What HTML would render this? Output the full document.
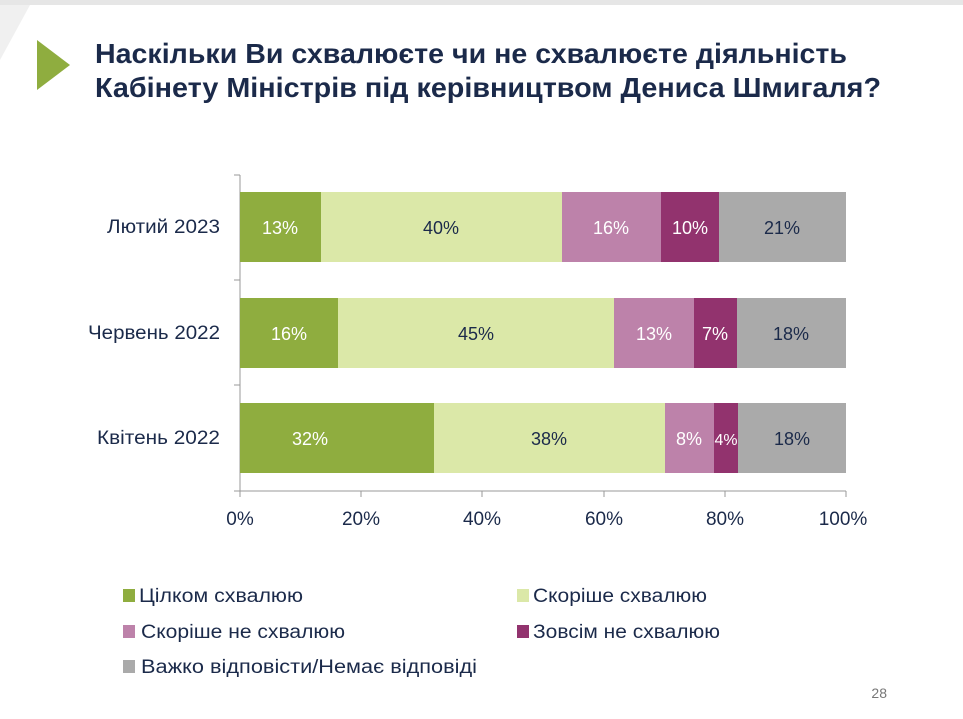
<!DOCTYPE html>
<html><head><meta charset="utf-8"><style>
html,body{margin:0;padding:0;background:#fff;}
svg{display:block;font-family:"Liberation Sans","DejaVu Sans",sans-serif;}
</style></head><body>
<svg width="963" height="719" viewBox="0 0 963 719" xmlns="http://www.w3.org/2000/svg">
<rect width="963" height="719" fill="#fff"/>
<rect x="0" y="0" width="963" height="5" fill="#e6e6e6"/>
<polygon points="0,5 30,5 0,60" fill="#f0f0f0"/>
<polygon points="37,40 70,65 37,90" fill="#8fad3f"/>
<g fill="#1b2a4a" font-weight="bold" font-size="28">
<text x="95" y="63" textLength="752" lengthAdjust="spacingAndGlyphs">Наскільки Ви схвалюєте чи не схвалюєте діяльність</text>
<text x="95" y="97" textLength="786" lengthAdjust="spacingAndGlyphs">Кабінету Міністрів під керівництвом Дениса Шмигаля?</text>
</g>
<g stroke="#999" stroke-width="1">
<line x1="240" y1="175" x2="240" y2="491"/>
<line x1="234" y1="175" x2="240" y2="175"/>
<line x1="234" y1="280" x2="240" y2="280"/>
<line x1="234" y1="385" x2="240" y2="385"/>
<line x1="234" y1="491" x2="846" y2="491"/>
<line x1="240" y1="491" x2="240" y2="497"/>
<line x1="361" y1="491" x2="361" y2="497"/>
<line x1="482" y1="491" x2="482" y2="497"/>
<line x1="604" y1="491" x2="604" y2="497"/>
<line x1="725" y1="491" x2="725" y2="497"/>
<line x1="846" y1="491" x2="846" y2="497"/>
</g>
<rect x="240" y="192" width="81" height="70" fill="#8fad3f"/>
<rect x="321" y="192" width="241" height="70" fill="#dbe8a8"/>
<rect x="562" y="192" width="99" height="70" fill="#bd82aa"/>
<rect x="661" y="192" width="58" height="70" fill="#92336e"/>
<rect x="719" y="192" width="127" height="70" fill="#aaaaaa"/>
<rect x="240" y="298" width="98" height="70" fill="#8fad3f"/>
<rect x="338" y="298" width="276" height="70" fill="#dbe8a8"/>
<rect x="614" y="298" width="80" height="70" fill="#bd82aa"/>
<rect x="694" y="298" width="43" height="70" fill="#92336e"/>
<rect x="737" y="298" width="109" height="70" fill="#aaaaaa"/>
<rect x="240" y="403" width="194" height="70" fill="#8fad3f"/>
<rect x="434" y="403" width="231" height="70" fill="#dbe8a8"/>
<rect x="665" y="403" width="49" height="70" fill="#bd82aa"/>
<rect x="714" y="403" width="24" height="70" fill="#92336e"/>
<rect x="738" y="403" width="108" height="70" fill="#aaaaaa"/>
<g font-size="18" text-anchor="middle">
<text x="280" y="234" fill="#fff">13%</text>
<text x="441" y="234" fill="#1b2a4a">40%</text>
<text x="611" y="234" fill="#fff">16%</text>
<text x="690" y="234" fill="#fff">10%</text>
<text x="782" y="234" fill="#1b2a4a">21%</text>
<text x="289" y="340" fill="#fff">16%</text>
<text x="476" y="340" fill="#1b2a4a">45%</text>
<text x="654" y="340" fill="#fff">13%</text>
<text x="715" y="340" fill="#fff">7%</text>
<text x="791" y="340" fill="#1b2a4a">18%</text>
<text x="310" y="445" fill="#fff">32%</text>
<text x="549" y="445" fill="#1b2a4a">38%</text>
<text x="689" y="445" fill="#fff">8%</text>
<text x="726" y="445" fill="#fff" font-size="16" textLength="23" lengthAdjust="spacingAndGlyphs">4%</text>
<text x="792" y="445" fill="#1b2a4a">18%</text>
</g>
<g font-size="19" fill="#1b2a4a">
<text x="107" y="233" textLength="113" lengthAdjust="spacingAndGlyphs">Лютий 2023</text>
<text x="88" y="339" textLength="132" lengthAdjust="spacingAndGlyphs">Червень 2022</text>
<text x="97" y="444" textLength="123" lengthAdjust="spacingAndGlyphs">Квітень 2022</text>
</g>
<g font-size="19" fill="#1b2a4a" text-anchor="middle">
<text x="240" y="525">0%</text>
<text x="361" y="525">20%</text>
<text x="482" y="525">40%</text>
<text x="604" y="525">60%</text>
<text x="725" y="525">80%</text>
<text x="843" y="525">100%</text>
</g>
<g font-size="19" fill="#1b2a4a" lengthAdjust="spacingAndGlyphs">
<rect x="123" y="589" width="12" height="13" fill="#8fad3f"/>
<text x="139" y="602" textLength="164" lengthAdjust="spacingAndGlyphs">Цілком схвалюю</text>
<rect x="517" y="589" width="12" height="13" fill="#dbe8a8"/>
<text x="533" y="602" textLength="174" lengthAdjust="spacingAndGlyphs">Скоріше схвалюю</text>
<rect x="123" y="625" width="12" height="13" fill="#bd82aa"/>
<text x="141" y="638" textLength="204" lengthAdjust="spacingAndGlyphs">Скоріше не схвалюю</text>
<rect x="517" y="625" width="12" height="13" fill="#92336e"/>
<text x="533" y="638" textLength="187" lengthAdjust="spacingAndGlyphs">Зовсім не схвалюю</text>
<rect x="123" y="660" width="12" height="13" fill="#aaaaaa"/>
<text x="141" y="673" textLength="336" lengthAdjust="spacingAndGlyphs">Важко відповісти/Немає відповіді</text>
</g>
<text x="887" y="698" font-size="14" fill="#777" text-anchor="end">28</text>
</svg>
</body></html>
